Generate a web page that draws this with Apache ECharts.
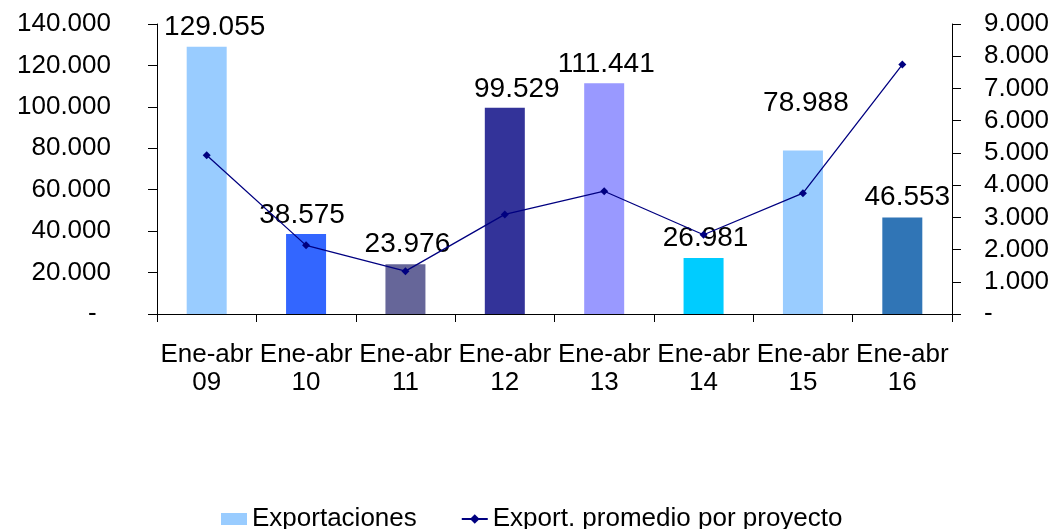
<!DOCTYPE html>
<html>
<head>
<meta charset="utf-8">
<script src="https://cdn.jsdelivr.net/npm/echarts@6/dist/echarts.min.js"></script>
<style>html,body{margin:0;padding:0;background:#fff;}#c{width:1055px;height:529px;}</style>
</head>
<body>
<div id="c"></div>
<script>
const categories = ['Ene-abr\n09','Ene-abr\n10','Ene-abr\n11','Ene-abr\n12','Ene-abr\n13','Ene-abr\n14','Ene-abr\n15','Ene-abr\n16'];
const exportaciones = [129055, 38575, 23976, 99529, 111441, 26981, 78988, 46553];
const promedio = [4930, 2130, 1330, 3090, 3810, 2460, 3750, 7740];
const leftTicks = {min: 0, max: 140000, interval: 20000};
const rightTicks = {min: 0, max: 9000, interval: 1000};

const barColors = ['#99CCFF','#3366FF','#666699','#333399','#9999FF','#00CCFF','#99CCFF','#3075B6'];
const labelTweaks = [[8,5],[-4,5],[2,6],[12,5],[2,5],[2,6],[3,33],[5,6]];

function fmtThousands(v){
  return String(Math.round(v)).replace(/\B(?=(\d{3})+(?!\d))/g,'.');
}
const FONT = 'Liberation Sans, Arial, sans-serif';

const chart = echarts.init(document.getElementById('c'));
chart.setOption({
  animation: false,
  backgroundColor: '#fff',
  grid: {left: 157, right: 103, top: 24, bottom: 215},
  legend: {
    left: 216, top: 501,
    itemWidth: 26, itemHeight: 12, itemGap: 44,
    textStyle: {fontFamily: FONT, fontSize: 26, color: '#000'},
    data: [
      {name: 'Exportaciones', icon: 'rect'},
      {name: 'Export. promedio por proyecto'}
    ]
  },
  xAxis: {
    type: 'category',
    data: categories,
    axisLine: {lineStyle: {color: '#000', width: 1}},
    axisTick: {show: true, length: 8, lineStyle: {color: '#000'}},
    axisLabel: {interval: 0, margin: 27, fontFamily: FONT, fontSize: 26, lineHeight: 28, color: '#000'}
  },
  yAxis: [
    {
      type: 'value', min: leftTicks.min, max: leftTicks.max, interval: leftTicks.interval,
      splitLine: {show: false},
      axisLine: {show: true, lineStyle: {color: '#000'}},
      axisTick: {show: true, length: 9, lineStyle: {color: '#000'}},
      axisLabel: {margin: 46, fontFamily: FONT, fontSize: 26, color: '#000',
        formatter: v => v === 0 ? '-  ' : fmtThousands(v)}
    },
    {
      type: 'value', min: rightTicks.min, max: rightTicks.max, interval: rightTicks.interval,
      position: 'right',
      splitLine: {show: false},
      axisLine: {show: true, lineStyle: {color: '#000'}},
      axisTick: {show: true, length: 9, lineStyle: {color: '#000'}},
      axisLabel: {margin: 32, fontFamily: FONT, fontSize: 26, color: '#000',
        formatter: v => v === 0 ? '-' : fmtThousands(v)}
    }
  ],
  series: [
    {
      name: 'Exportaciones', type: 'bar', barWidth: 40, yAxisIndex: 0,
      itemStyle: {color: '#99CCFF'},
      data: exportaciones.map((v, i) => ({
        value: v,
        itemStyle: {color: barColors[i]},
        label: {offset: [labelTweaks[i][0], 0], distance: labelTweaks[i][1]}
      })),
      label: {show: true, position: 'top', fontFamily: FONT, fontSize: 28, color: '#000',
        formatter: p => fmtThousands(p.value)},
      z: 2
    },
    {
      name: 'Export. promedio por proyecto', type: 'line', yAxisIndex: 1,
      data: promedio,
      symbol: 'diamond', symbolSize: 8,
      lineStyle: {color: '#000080', width: 1.3},
      itemStyle: {color: '#000080'},
      z: 3
    }
  ]
});
</script>
</body>
</html>
